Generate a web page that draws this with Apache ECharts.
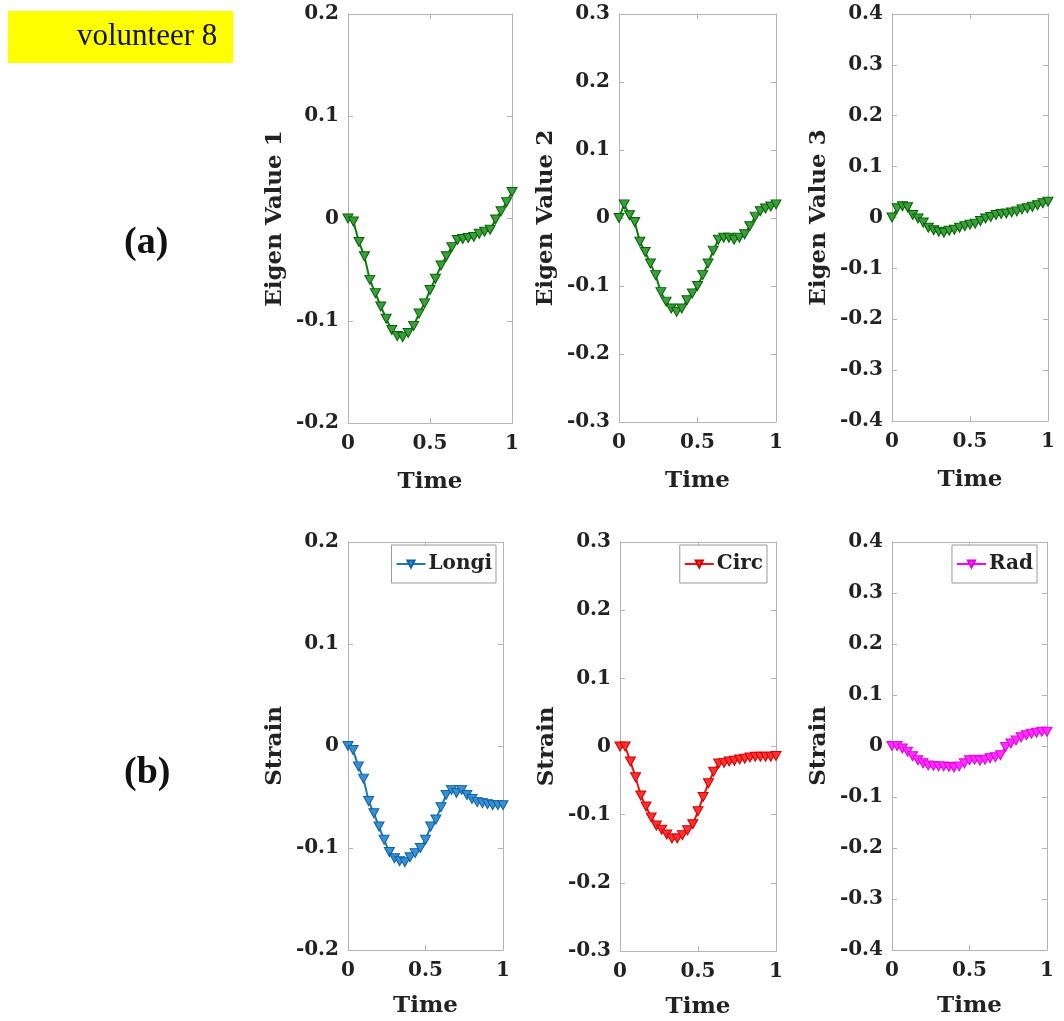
<!DOCTYPE html>
<html>
<head>
<meta charset="utf-8">
<script src="https://cdn.jsdelivr.net/npm/echarts@6/dist/echarts.min.js"></script>
<style>
  html, body { margin: 0; padding: 0; background: #fff; }
  #chart { width: 1064px; height: 1021px; }
</style>
</head>
<body>
<div id="chart"></div>
<script>
// time samples (31 frames over one cycle)
const time = [0, 0.033, 0.067, 0.1, 0.133, 0.167, 0.2, 0.233, 0.267, 0.3, 0.333, 0.367, 0.4, 0.433, 0.467, 0.5,
  0.533, 0.567, 0.6, 0.633, 0.667, 0.7, 0.733, 0.767, 0.8, 0.833, 0.867, 0.9, 0.933, 0.967, 1]

// (a) eigen values
const ev1 = [0, -0.003, -0.023, -0.037, -0.06, -0.073, -0.086, -0.098, -0.109, -0.115, -0.116, -0.112, -0.105, -0.093, -0.083, -0.07,
  -0.059, -0.046, -0.037, -0.028, -0.021, -0.02, -0.019, -0.018, -0.015, -0.013, -0.011, -0.001, 0.007, 0.016, 0.026]
const ev2 = [0, 0.02, 0.004, -0.006, -0.035, -0.05, -0.067, -0.084, -0.109, -0.123, -0.133, -0.138, -0.133, -0.121, -0.111, -0.1,
  -0.084, -0.067, -0.048, -0.032, -0.029, -0.029, -0.032, -0.029, -0.024, -0.012, 0.002, 0.01, 0.014, 0.017, 0.02]
const ev3 = [0, 0.018, 0.022, 0.02, 0.005, -0.002, -0.01, -0.02, -0.025, -0.028, -0.03, -0.026, -0.024, -0.02, -0.017, -0.014,
  -0.012, -0.007, -0.002, 0.001, 0.005, 0.007, 0.008, 0.01, 0.012, 0.016, 0.018, 0.021, 0.024, 0.028, 0.031]

// (b) strains
const longi = [0, -0.004, -0.02, -0.032, -0.054, -0.066, -0.079, -0.092, -0.104, -0.11, -0.113, -0.114, -0.109, -0.105, -0.1, -0.092,
  -0.079, -0.072, -0.06, -0.048, -0.043, -0.046, -0.043, -0.048, -0.052, -0.055, -0.056, -0.057, -0.058, -0.058, -0.058]
const circ = [0, 0, -0.022, -0.045, -0.072, -0.088, -0.104, -0.116, -0.122, -0.129, -0.135, -0.135, -0.13, -0.123, -0.114, -0.095,
  -0.074, -0.054, -0.037, -0.025, -0.024, -0.022, -0.021, -0.019, -0.018, -0.016, -0.015, -0.015, -0.015, -0.015, -0.014]
const rad = [0, 0, -0.005, -0.011, -0.02, -0.028, -0.034, -0.038, -0.039, -0.04, -0.04, -0.041, -0.042, -0.04, -0.034, -0.028,
  -0.027, -0.029, -0.027, -0.024, -0.022, -0.018, -0.002, 0.005, 0.011, 0.017, 0.021, 0.024, 0.026, 0.028, 0.028]

const yLimits = [0.2, 0.3, 0.4, 0.2, 0.3, 0.4]
const yNames = ['Eigen Value 1', 'Eigen Value 2', 'Eigen Value 3', 'Strain', 'Strain', 'Strain']
const seriesNames = ['ev1', 'ev2', 'ev3', 'Longi', 'Circ', 'Rad']
const seriesData = [ev1, ev2, ev3, longi, circ, rad]
const xTicks = [0, 0.5, 1]

// panel boxes (pixels) and colours
const boxes = [
  { left: 348, top: 14, width: 164, height: 409 },
  { left: 619, top: 14, width: 157, height: 408 },
  { left: 892, top: 14, width: 156, height: 407 },
  { left: 348, top: 542, width: 155, height: 408 },
  { left: 620, top: 542, width: 156, height: 409 },
  { left: 892, top: 542, width: 155, height: 408 },
]
const colors = [
  { line: '#0b7d0b', fill: '#3d9c3d', edge: '#006400' },
  { line: '#0b7d0b', fill: '#3d9c3d', edge: '#006400' },
  { line: '#0b7d0b', fill: '#3d9c3d', edge: '#006400' },
  { line: '#1f77b4', fill: '#3b8fd0', edge: '#0a62a8' },
  { line: '#f01010', fill: '#ff3030', edge: '#d00000' },
  { line: '#ff00ff', fill: '#ff30ff', edge: '#e000e0' },
]
const legendRight = [568, 297, 27]

const font = 'DejaVu Serif'
const frame = '#b4b4b4'
const fmtY = v => (Math.abs(v) < 1e-9 ? '0' : (v < 0 ? '-' : '') + Math.abs(v).toFixed(1))

const grid = [], xAxis = [], yAxis = [], series = [], legend = []

boxes.forEach((b, i) => {
  grid.push(b)
  const lim = yLimits[i]
  const axisBase = {
    gridIndex: i,
    axisLine: { show: true, onZero: false, lineStyle: { color: frame, width: 1 } },
    axisTick: { show: true, inside: true, length: 5, lineStyle: { color: frame } },
    splitLine: { show: false },
  }
  xAxis.push({
    ...axisBase, type: 'value', position: 'bottom', min: 0, max: 1, interval: 0.5,
    name: 'Time', nameLocation: 'middle', nameGap: i < 3 ? 48 : 45,
    nameTextStyle: { fontFamily: font, fontWeight: 'bold', fontSize: 23, color: '#222' },
    axisLabel: { fontFamily: font, fontWeight: 'bold', fontSize: 20, color: '#222', margin: 11,
      formatter: v => (xTicks.includes(v) ? String(v) : '') },
  })
  xAxis.push({
    ...axisBase, type: 'value', position: 'top', min: 0, max: 1, interval: 0.5,
    axisLabel: { show: false },
  })
  yAxis.push({
    ...axisBase, type: 'value', position: 'left', min: -lim, max: lim, interval: 0.1,
    name: yNames[i], nameLocation: 'middle', nameGap: 61, nameRotate: 90,
    nameTextStyle: { fontFamily: font, fontWeight: 'bold', fontSize: 23, color: '#222' },
    axisLabel: { fontFamily: font, fontWeight: 'bold', fontSize: 20, color: '#222', margin: 9, formatter: fmtY },
  })
  yAxis.push({
    ...axisBase, type: 'value', position: 'right', min: -lim, max: lim, interval: 0.1,
    axisLabel: { show: false },
  })
  const c = colors[i]
  series.push({
    type: 'line',
    name: seriesNames[i],
    xAxisIndex: i * 2,
    yAxisIndex: i * 2,
    data: time.map((t, k) => [t, seriesData[i][k]]),
    symbol: 'triangle',
    symbolRotate: 180,
    symbolSize: [10, 9],
    showAllSymbol: true,
    lineStyle: { color: c.line, width: 2 },
    itemStyle: { color: c.fill, borderColor: c.edge, borderWidth: 1 },
    animation: false,
    z: 3,
  })
  if (i >= 3) {
    legend.push({
      data: [seriesNames[i]],
      right: legendRight[i - 3],
      top: 545,
      orient: 'vertical',
      padding: [9, 4, 9, 4],
      itemWidth: 29,
      itemHeight: 9,
      itemGap: 0,
      backgroundColor: '#fff',
      borderColor: '#9a9a9a',
      borderWidth: 1,
      borderRadius: 0,
      textStyle: { fontFamily: font, fontWeight: 'bold', fontSize: 20, color: '#222', padding: [0, 0, 0, -2] },
    })
  }
})

const chart = echarts.init(document.getElementById('chart'), null, { renderer: 'canvas' })
chart.setOption({
  backgroundColor: '#fff',
  animation: false,
  title: [
    {
      text: 'volunteer 8', left: 8, top: 11,
      backgroundColor: '#ffff00',
      padding: [10, 16, 10, 69],
      textStyle: { fontFamily: 'Liberation Serif', fontWeight: 'normal', fontSize: 31, lineHeight: 32, color: '#111' },
    },
    {
      text: '(a)', left: 119, top: 219,
      textStyle: { fontFamily: 'Liberation Serif', fontWeight: 'bold', fontSize: 38, color: '#111' },
    },
    {
      text: '(b)', left: 119, top: 749,
      textStyle: { fontFamily: 'Liberation Serif', fontWeight: 'bold', fontSize: 38, color: '#111' },
    },
  ],
  legend,
  grid,
  xAxis,
  yAxis,
  series,
})
</script>
</body>
</html>
